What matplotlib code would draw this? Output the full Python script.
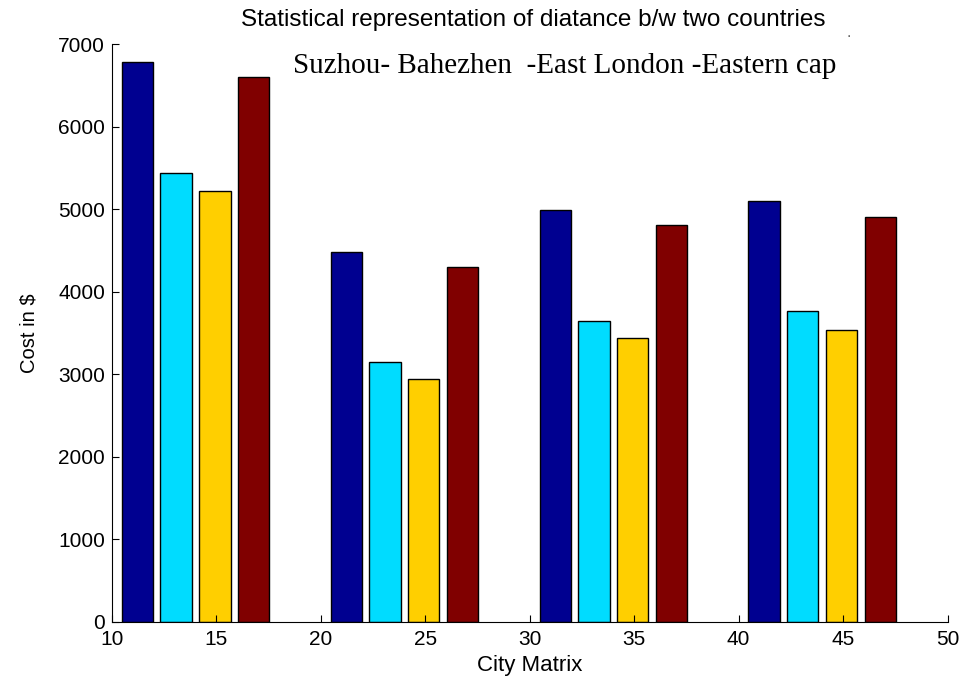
import matplotlib.pyplot as plt
import numpy as np

group_x = [14, 24, 34, 44]
series_a = [6780, 4485, 4990, 5100]
series_b = [5440, 3150, 3645, 3765]
series_c = [5220, 2945, 3440, 3540]
series_d = [6595, 4305, 4810, 4910]
colors = ["#000090", "#00DCFF", "#FFCF00", "#800000"]

fig = plt.figure(figsize=(9.64, 6.88), dpi=100)
ax = fig.add_axes([0.116, 0.096, 0.867, 0.840])

offsets = [-2.78, -0.93, 0.93, 2.78]
x = np.array(group_x, dtype=float)
for values, offset, color in zip([series_a, series_b, series_c, series_d], offsets, colors):
    ax.bar(x + offset, values, width=1.5, color=color, edgecolor="black", linewidth=1.0)

ax.set_xlim(10, 50)
ax.set_ylim(0, 7000)
ax.set_xticks(range(10, 51, 5))
ax.set_yticks(range(0, 7001, 1000))
ax.spines["top"].set_visible(False)
ax.spines["right"].set_visible(False)
ax.tick_params(direction="in", length=5, labelsize=15)
ax.tick_params(axis="x", pad=6)
ax.tick_params(axis="y", pad=5)
for label in ax.get_xticklabels() + ax.get_yticklabels():
    label.set_family("Liberation Sans")
ax.set_xlabel("City Matrix", fontsize=16, family="Liberation Sans", labelpad=4)
ax.set_ylabel("Cost in $", fontsize=14.5, family="Liberation Sans", labelpad=14)

fig.text(0.553, 0.971, "Statistical representation of diatance b/w two countries",
         ha="center", va="center", fontsize=17.5, family="Liberation Sans")
fig.text(0.586, 0.904, "Suzhou- Bahezhen  -East London -Eastern cap",
         ha="center", va="center", fontsize=21, family="Liberation Serif")
fig.text(0.880, 0.952, ".", ha="center", va="center", fontsize=10, color="#555555")

fig.savefig("out.png", dpi=100)
